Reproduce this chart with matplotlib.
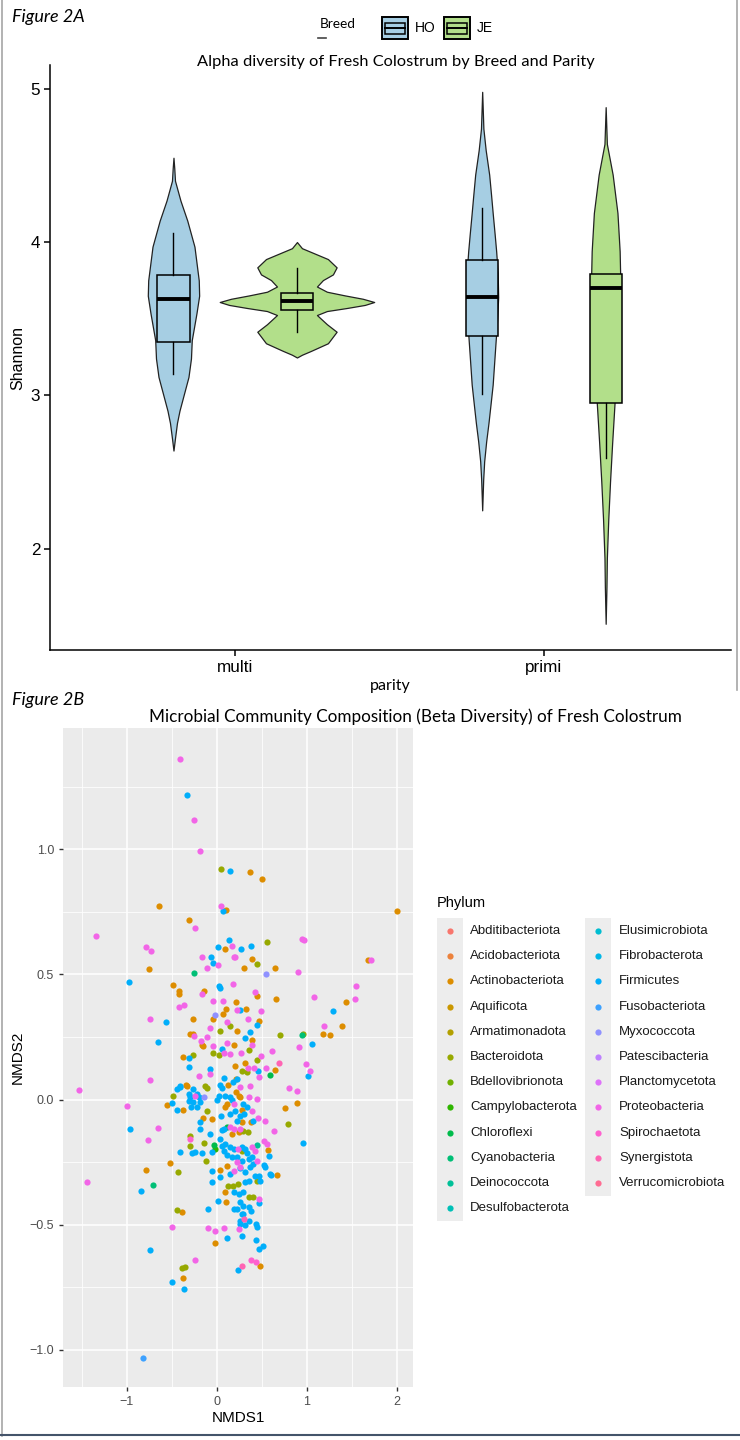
import numpy as np
import matplotlib
matplotlib.use("Agg")
import matplotlib.pyplot as plt
from matplotlib.patches import Rectangle
from matplotlib.lines import Line2D

W, H = 740, 1440
plt.rcParams['font.family'] = ['Liberation Sans', 'DejaVu Sans']
TITLE_FONT = ['Lato', 'DejaVu Sans']

# ---------------- Figure 2A data ----------------
parity = ["multi", "primi"]
breeds = ["HO", "JE"]
breed_colors = {"HO": "#A6CEE3", "JE": "#B2DF8A"}

# box stats: q1, median, q3, lower whisker, upper whisker
ho_multi_box = (3.35, 3.63, 3.785, 3.14, 4.057)
je_multi_box = (3.556, 3.613, 3.67, 3.415, 3.832)
ho_primi_box = (3.385, 3.64, 3.88, 3.01, 4.22)
je_primi_box = (2.95, 3.70, 3.79, 2.59, 3.79)

# violin outlines: Shannon value and half width (pixels)
ho_multi_v = [2.64, 2.72, 2.82, 2.90, 3.01, 3.12, 3.24, 3.36, 3.535, 3.65, 3.75,
              3.97, 4.14, 4.27, 4.40, 4.48, 4.55]
ho_multi_w = [0, 1.5, 3.5, 6, 10.5, 15, 17.5, 18.3, 23, 25.7, 25.3,
              21, 13.8, 7, 1.5, 0.8, 0]
je_multi_v = [3.247, 3.265, 3.29, 3.34, 3.415, 3.464, 3.524, 3.55, 3.57, 3.59,
              3.609, 3.63, 3.652, 3.676, 3.71, 3.752, 3.789, 3.835, 3.889, 3.93, 3.96, 4.0]
je_multi_w = [0, 5, 14, 31, 39.7, 30, 20, 30, 50, 68,
              77.3, 66, 48, 30, 20, 26, 36, 39.7, 31, 16, 5, 0]
ho_primi_v = [2.25, 2.45, 2.57, 2.70, 2.82, 2.95, 3.07, 3.31, 3.50, 3.64,
              3.80, 3.94, 4.05, 4.19, 4.30, 4.44, 4.60, 4.74, 4.98]
ho_primi_w = [0, 1, 2, 4, 6.3, 8.5, 10.5, 13, 15, 16,
              15.5, 14, 12.5, 10.5, 9, 7, 3.5, 1.2, 0]
je_primi_v = [1.51, 1.75, 1.94, 2.19, 2.44, 2.69, 2.94, 3.3, 3.6, 3.79,
              3.94, 4.19, 4.44, 4.64, 4.88]
je_primi_w = [0, 0.8, 1.2, 2.6, 4.4, 6.5, 8.8, 12, 14, 14.5,
              14, 11.8, 7, 1.2, 0]

# ---------------- Figure 2B data ----------------
phyla = ["Abditibacteriota", "Acidobacteriota", "Actinobacteriota", "Aquificota",
         "Armatimonadota", "Bacteroidota", "Bdellovibrionota", "Campylobacterota",
         "Chloroflexi", "Cyanobacteria", "Deinococcota", "Desulfobacterota",
         "Elusimicrobiota", "Fibrobacterota", "Firmicutes", "Fusobacteriota",
         "Myxococcota", "Patescibacteria", "Planctomycetota", "Proteobacteria",
         "Spirochaetota", "Synergistota", "Verrucomicrobiota"]

actinobacteriota = [
    (0.367, 0.908), (0.507, 0.881), (-0.644, 0.772), (0.1, 0.757), (2.004, 0.753),
    (-0.307, 0.719), (0.085, 0.601), (0.389, 0.56), (1.681, 0.559), (0.307, 0.527),
    (-0.759, 0.523), (0.648, 0.525), (-0.489, 0.459), (-0.426, 0.435), (-0.419, 0.421),
    (-0.148, 0.435), (0.444, 0.415), (0.652, 0.403), (1.433, 0.389), (0.215, 0.388),
    (0.319, 0.361), (0.063, 0.343), (0.107, 0.36), (-0.27, 0.321), (-0.044, 0.321),
    (0.463, 0.315), (1.393, 0.292), (-0.304, 0.261), (-0.267, 0.261), (0.222, 0.272),
    (1.181, 0.26), (1.259, 0.259), (0.396, 0.237), (-0.17, 0.216), (-0.152, 0.212),
    (0.196, 0.217), (-0.378, 0.169), (0.207, 0.136), (0.315, 0.147), (0.648, 0.117),
    (0.119, 0.06), (0.215, 0.083), (-0.341, 0.059), (0.215, 0.029), (0.248, 0.016),
    (-0.333, 0.056), (0.259, 0.009),
    (-0.785, -0.28), (-0.519, -0.253), (-0.389, -0.449), (-0.378, -0.712), (-0.019, -0.573),
    (0.485, -0.665), (0.107, -0.408), (0.096, -0.368), (-0.556, -0.021), (-0.381, -0.041),
    (-0.156, -0.072), (-0.056, -0.077), (0.037, -0.28), (0.167, -0.137), (0.241, -0.131),
    (0.563, -0.201), (0.674, -0.3), (0.111, -0.264), (0.278, -0.04), (0.285, -0.091),
    (0.381, -0.091), (0.752, -0.035), (0.889, -0.013), (0.111, -0.017), (0.096, -0.028)]

bacteroidota = [
    (0.044, 0.921), (0.552, 0.631), (0.441, 0.54), (0.148, 0.295), (0.03, 0.272),
    (0.707, 0.257), (0.956, 0.26), (0.359, 0.197), (-0.048, 0.187), (-0.27, 0.179),
    (0.026, 0.176), (0.444, 0.16), (0.281, 0.113), (0.337, 0.109), (-0.13, 0.056),
    (-0.115, 0.045), (-0.489, 0.016),
    (-0.433, -0.291), (-0.444, -0.44), (-0.389, -0.671), (-0.359, -0.667), (-0.104, -0.044),
    (-0.304, -0.147), (-0.304, -0.184), (-0.141, -0.173), (-0.119, -0.247), (0.289, -0.127),
    (0.341, -0.131), (0.119, -0.344), (0.174, -0.344), (0.23, -0.337), (0.444, -0.324),
    (0.352, -0.391), (0.407, -0.388), (0.789, -0.097), (0.285, -0.205)]

campylobacterota = [(-0.019, -0.197)]
chloroflexi = [(0.593, 0.1), (0.111, -0.108), (-0.03, -0.18)]
cyanobacteria = [(-0.252, 0.504), (0.941, 0.257), (-0.707, -0.341)]
deinococcota = [(0.444, -0.18)]

firmicutes = [
    (-0.33, 1.217), (0.144, 0.912), (0.067, 0.753), (0.13, 0.637), (0.011, 0.611),
    (0.263, 0.6), (0.374, 0.615), (-0.067, 0.568), (-0.048, 0.545), (-0.981, 0.469),
    (0.026, 0.455), (0.033, 0.445), (0.252, 0.356), (1.296, 0.355), (-0.563, 0.308),
    (0.441, 0.296), (0.363, 0.268), (-0.652, 0.229), (0.315, 0.245), (1.063, 0.221),
    (0.059, 0.203), (-0.307, 0.165), (-0.307, 0.129), (-0.078, 0.123), (0.452, 0.113),
    (1.015, 0.096), (0.222, 0.084), (0.081, 0.087), (0.037, 0.06), (0.178, 0.069),
    (-0.415, 0.049), (-0.444, 0.041), (-0.315, 0.023), (-0.304, 0.009), (-0.193, 0.009),
    (0.019, 0.016), (0.093, 0.016), (0.148, 0.009), (-0.407, 0.056), (-0.267, 0.043),
    (-0.222, 0.023), (0.056, 0.045),
    (-0.963, -0.117), (-0.841, -0.364), (-0.748, -0.6), (-0.493, -0.728), (-0.367, -0.757),
    (0.111, -0.551), (0.23, -0.679), (0.43, -0.561), (0.467, -0.597), (0.515, -0.584),
    (0.437, -0.495), (0.444, -0.507), (0.252, -0.495), (0.296, -0.457), (0.385, -0.447),
    (-0.093, -0.436), (0.015, -0.405), (0.196, -0.439),
    (-0.5, -0.013), (-0.444, -0.04), (-0.315, -0.004), (-0.267, -0.008), (-0.289, -0.031),
    (-0.222, -0.031), (-0.185, -0.011), (-0.185, -0.091), (0.007, 0.0), (0.048, -0.064),
    (-0.407, -0.211), (-0.278, -0.213), (-0.241, -0.211), (-0.167, -0.213), (-0.056, -0.211),
    (-0.056, -0.284), (-0.056, -0.331), (0.037, -0.311),
    (0.056, -0.121), (0.096, -0.177), (0.148, -0.188), (0.185, -0.197), (0.278, -0.191),
    (0.315, -0.197), (0.333, -0.215), (0.574, -0.224), (0.389, -0.231), (0.111, -0.22),
    (0.167, -0.228), (0.222, -0.231), (0.278, -0.244), (0.352, -0.237), (0.407, -0.257),
    (0.519, -0.261), (0.593, -0.297), (0.148, -0.297), (0.252, -0.273), (0.315, -0.291),
    (0.37, -0.271), (0.426, -0.304), (0.463, -0.304), (0.315, -0.331), (0.352, -0.324),
    (0.481, -0.324), (0.185, -0.371), (0.241, -0.377), (0.296, -0.371), (0.463, -0.415),
    (0.252, -0.411), (0.296, -0.424), (0.352, -0.431), (0.222, -0.437), (0.278, -0.457),
    (0.352, -0.484), (0.259, -0.484), (0.315, -0.5), (0.278, -0.544),
    (0.307, -0.057), (0.222, -0.084), (0.952, -0.175), (0.604, -0.301), (0.537, -0.268),
    (0.167, -0.001), (0.296, -0.017), (0.333, -0.031), (0.148, -0.057), (0.204, -0.044),
    (0.259, -0.064), (0.4, -0.084), (-0.074, -0.137), (0.037, -0.157), (0.074, -0.117),
    (0.056, -0.184), (0.081, -0.204), (-0.185, -0.117)]

fusobacteriota = [(-0.822, -1.032)]
myxococcota = [(0.541, 0.501), (-0.022, 0.339), (-0.148, 0.009)]

proteobacteria = [
    (-0.407, 1.36), (-0.252, 1.117), (-0.185, 0.992), (0.044, 0.773), (-0.241, 0.687),
    (-1.341, 0.653), (0.167, 0.615), (-0.789, 0.608), (-0.737, 0.595), (0.941, 0.643),
    (0.963, 0.636), (-0.163, 0.571), (0.185, 0.571), (0.207, 0.569), (1.711, 0.559),
    (-0.104, 0.527), (0.015, 0.536), (0.9, 0.509), (0.174, 0.461), (1.552, 0.452),
    (-0.17, 0.421), (0.419, 0.428), (1.081, 0.408), (1.537, 0.4), (-0.367, 0.379),
    (-0.426, 0.369), (-0.044, 0.395), (0.063, 0.392), (0.222, 0.357), (0.493, 0.352),
    (-0.741, 0.32), (0.115, 0.308), (0.344, 0.32), (1.189, 0.293), (-0.252, 0.255),
    (-0.111, 0.249), (-0.174, 0.235), (-0.048, 0.215), (0.115, 0.225), (0.396, 0.219),
    (0.915, 0.208), (0.081, 0.185), (0.148, 0.183), (0.27, 0.185), (0.615, 0.192),
    (0.489, 0.172), (0.996, 0.141), (0.348, 0.128), (0.415, 0.125), (0.541, 0.127),
    (1.037, 0.115), (-0.741, 0.08), (-0.193, 0.095), (-0.081, 0.104), (0.47, 0.092),
    (-1.533, 0.037), (0.8, 0.045), (0.896, 0.036), (-0.074, 0.287), (-0.241, 0.016),
    (0.37, 0.056), (0.259, 0.049), (0.444, 0.003),
    (-1.0, -0.027), (-0.767, -0.161), (-0.659, -0.115), (-1.444, -0.328), (-0.493, -0.508),
    (-0.248, -0.639), (-0.096, -0.512), (-0.019, -0.524), (0.081, -0.513), (0.248, -0.517),
    (0.148, -0.111), (0.185, -0.117), (0.259, -0.117), (0.23, -0.197), (0.389, -0.191),
    (0.556, -0.177), (0.444, -0.244), (0.185, -0.284), (0.463, -0.397), (0.396, -0.044),
    (0.456, -0.075), (0.530, -0.084), (0.63, -0.124), (0.426, -0.204), (0.519, -0.164),
    (0.185, -0.017), (0.352, 0.009), (0.222, -0.251), (0.259, -0.271)]

spirochaetota = [(0.374, -0.639), (0.43, -0.648), (-0.304, -0.157)]
synergistota = [(0.696, 0.148), (0.281, -0.665), (0.304, -0.476)]

points_by_phylum = {
    "Actinobacteriota": actinobacteriota, "Bacteroidota": bacteroidota,
    "Campylobacterota": campylobacterota, "Chloroflexi": chloroflexi,
    "Cyanobacteria": cyanobacteria, "Deinococcota": deinococcota,
    "Firmicutes": firmicutes, "Fusobacteriota": fusobacteriota,
    "Myxococcota": myxococcota, "Proteobacteria": proteobacteria,
    "Spirochaetota": spirochaetota, "Synergistota": synergistota,
}


def hue_colors(n, c=100.0, l=65.0):
    # ggplot2 default discrete palette (hcl with equally spaced hues)
    M = np.array([[3.240479, -1.537150, -0.498535],
                  [-0.969256, 1.875992, 0.041556],
                  [0.055648, -0.204043, 1.057311]])
    out = []
    for i in range(n):
        h = np.deg2rad(15 + 360.0 * i / n)
        Y = 100 * ((l + 16) / 116) ** 3
        u = c * np.cos(h) / (13 * l) + 0.1978398
        v = c * np.sin(h) / (13 * l) + 0.4683363
        X = 9.0 * Y * u / (4 * v)
        Z = -X / 3 - 5 * Y + 3 * Y / v
        rgb = M @ np.array([X, Y, Z]) / 100
        rgb = np.where(rgb <= 0.0031308, 12.92 * rgb, 1.055 * np.abs(rgb) ** (1 / 2.4) - 0.055)
        out.append(tuple(np.clip(rgb, 0, 1)))
    return out


phylum_colors = dict(zip(phyla, hue_colors(len(phyla))))


def px_axes(fig, l, t, r, b):
    return fig.add_axes([l / W, 1 - b / H, (r - l) / W, (b - t) / H])


fig = plt.figure(figsize=(W / 100, H / 100), dpi=100)

# ================= Figure 2A =================
ax1 = px_axes(fig, 50, 65, 731, 650)
ax1.set_xlim(-0.6, 1.606)
ax1.set_ylim(1.339, 5.155)
cat_px = 309.0  # pixels per category step
dodge = 0.2

violins = [
    (0 - dodge, ho_multi_v, ho_multi_w, "HO", ho_multi_box),
    (0 + dodge, je_multi_v, je_multi_w, "JE", je_multi_box),
    (1 - dodge, ho_primi_v, ho_primi_w, "HO", ho_primi_box),
    (1 + dodge, je_primi_v, je_primi_w, "JE", je_primi_box),
]
for pos, vv, ww, breed, box in violins:
    hw = np.array(ww) / cat_px
    stats = [dict(coords=np.array(vv), vals=hw, mean=np.mean(vv), median=box[1],
                  min=min(vv), max=max(vv))]
    parts = ax1.violin(stats, positions=[pos], widths=[2 * hw.max()],
                       showmeans=False, showextrema=False, showmedians=False)
    for body in parts['bodies']:
        body.set_facecolor(breed_colors[breed])
        body.set_edgecolor('#222222')
        body.set_linewidth(0.9)
        body.set_alpha(1)
    q1, med, q3, lo, hi = box
    bp = ax1.bxp([dict(med=med, q1=q1, q3=q3, whislo=lo, whishi=hi, fliers=[])],
                 positions=[pos], widths=0.104, patch_artist=True, showfliers=False,
                 showcaps=False,
                 boxprops=dict(edgecolor='black', linewidth=1.1),
                 medianprops=dict(color='black', linewidth=2.8),
                 whiskerprops=dict(color='black', linewidth=1.0))
    for b in bp['boxes']:
        b.set_facecolor(breed_colors[breed])

ax1.set_xticks([0, 1])
ax1.set_xticklabels(parity)
ax1.set_yticks([2, 3, 4, 5])
for s in ['top', 'right']:
    ax1.spines[s].set_visible(False)
for s in ['left', 'bottom']:
    ax1.spines[s].set_linewidth(1.1)
ax1.tick_params(direction='out', length=4, width=1.1, labelsize=12.3, colors='black', pad=3)
ax1.set_ylabel("Shannon", fontsize=11.5, labelpad=4)
ax1.set_xlabel("parity", fontsize=11.5, family=TITLE_FONT, labelpad=3)

fig.text(12 / W, 1 - 17 / H, "Figure 2A", style='italic', fontsize=13,
         family=TITLE_FONT, va='center', ha='left')
fig.text(396 / W, 1 - 62 / H, "Alpha diversity of Fresh Colostrum by Breed and Parity",
         fontsize=11.8, family=TITLE_FONT, va='center', ha='center')

# breed legend (pixel coordinates)
lg1 = px_axes(fig, 310, 8, 510, 48)
lg1.set_xlim(310, 510)
lg1.set_ylim(48, 8)
lg1.axis('off')
lg1.text(320, 24, "Breed", fontsize=9.8, family=TITLE_FONT, va='center', ha='left')
lg1.plot([318, 326], [38, 38], color='#444444', lw=1.2)
for x0, breed in [(382, "HO"), (444, "JE")]:
    lg1.add_patch(Rectangle((x0, 17), 26, 22, facecolor=breed_colors[breed],
                            edgecolor='black', lw=1.4))
    lg1.add_patch(Rectangle((x0 + 2.6, 22.5), 20.8, 11, facecolor=breed_colors[breed],
                            edgecolor='black', lw=1.1))
    lg1.plot([x0 + 2.6, x0 + 23.4], [28, 28], color='black', lw=1.4)
    lg1.text(x0 + 33, 28, breed, fontsize=10, va='center', ha='left')

# ================= Figure 2B =================
ax2 = px_axes(fig, 63, 728, 413, 1387)
ax2.set_facecolor('#EBEBEB')
ax2.set_xlim(-1.71, 2.18)
ax2.set_ylim(-1.148, 1.484)
ax2.set_xticks([-1, 0, 1, 2])
ax2.set_yticks([-1.0, -0.5, 0.0, 0.5, 1.0])
ax2.set_yticklabels(["\u22121.0", "\u22120.5", "0.0", "0.5", "1.0"])
ax2.set_xticks([-1.5, -0.5, 0.5, 1.5], minor=True)
ax2.set_yticks([-0.75, -0.25, 0.25, 0.75, 1.25], minor=True)
ax2.grid(which='major', color='white', lw=1.1)
ax2.grid(which='minor', color='white', lw=0.55)
ax2.set_axisbelow(True)
for s in ax2.spines.values():
    s.set_visible(False)
ax2.tick_params(which='major', length=3, width=1, color='#333333',
                labelcolor='#4D4D4D', labelsize=9)
ax2.tick_params(which='minor', length=0)

for name in phyla:
    pts = points_by_phylum.get(name)
    if not pts:
        continue
    arr = np.array(pts)
    ax2.scatter(arr[:, 0], arr[:, 1], s=20, color=phylum_colors[name],
                linewidths=0, zorder=3)

ax2.set_xlabel("NMDS1", fontsize=11, labelpad=2)
ax2.set_ylabel("NMDS2", fontsize=11, labelpad=3)

fig.text(12 / W, 1 - 700 / H, "Figure 2B", style='italic', fontsize=13,
         family=TITLE_FONT, va='center', ha='left')
fig.text(415 / W, 1 - 717 / H,
         "Microbial Community Composition (Beta Diversity) of Fresh Colostrum",
         fontsize=12.3, family=TITLE_FONT, va='center', ha='center')

# phylum legend (pixel coordinates)
lg2 = px_axes(fig, 430, 885, 740, 1232)
lg2.set_xlim(430, 740)
lg2.set_ylim(1232, 885)
lg2.axis('off')
lg2.text(437, 903, "Phylum", fontsize=10.5, va='center', ha='left')
per_col = 12
col_key_x = [450, 598]
col_txt_x = [470, 619]
for col in range(2):
    n_rows = min(per_col, len(phyla) - col * per_col)
    lg2.add_patch(Rectangle((col_key_x[col] - 13, 918.4), 26, 25.2 * n_rows,
                            facecolor='#EDEDED', edgecolor='none'))
for i, name in enumerate(phyla):
    col, row = divmod(i, per_col)
    ry = 931 + 25.2 * row
    lg2.scatter([col_key_x[col]], [ry], s=20, color=phylum_colors[name], linewidths=0)
    lg2.text(col_txt_x[col], ry, name, fontsize=9.5, va='center', ha='left', color='#1A1A1A')

# page borders around the two panels
fig.add_artist(Line2D([2 / W, 2 / W], [0.003, 1], color='#A6A6A6', lw=1.2))
fig.add_artist(Line2D([737 / W, 737 / W], [1 - 690 / H, 1], color='#A6A6A6', lw=1.2))
fig.add_artist(Line2D([0, 1], [1 - 1435 / H, 1 - 1435 / H], color='#44546A', lw=1.5))

fig.savefig("out.png", dpi=100, facecolor='white')
